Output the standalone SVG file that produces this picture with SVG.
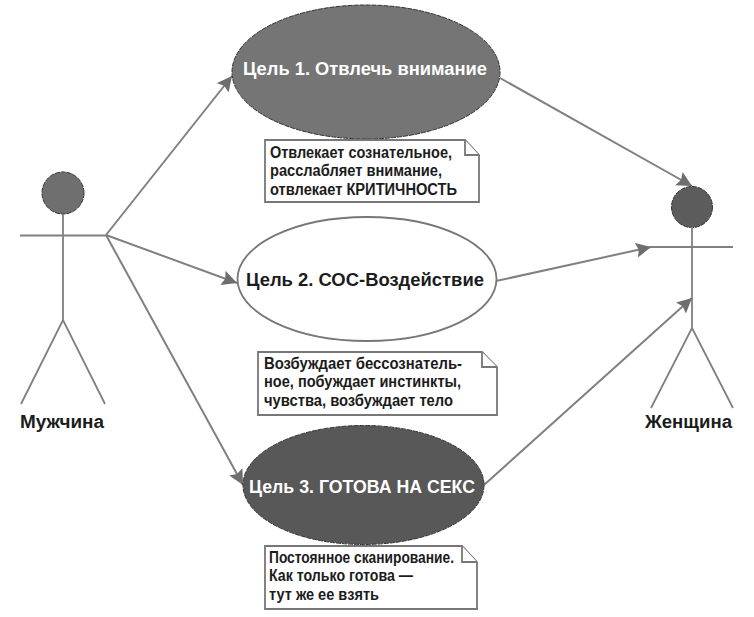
<svg xmlns="http://www.w3.org/2000/svg" width="754" height="617" viewBox="0 0 754 617">
<style>
text{font-family:"Liberation Sans",Arial,sans-serif;font-weight:bold;fill:#1c1c1c}
.g{font-size:17.5px}
.w{fill:#fff}
.a{font-size:18px}
.n{font-size:16px}
.l{fill:none;stroke:#808080;stroke-width:1.800}
.c{fill:none;stroke:#808080;stroke-width:2}
.h{stroke:#333;stroke-width:1;stroke-dasharray:5 1}
.note{fill:#fff;stroke:#777;stroke-width:1.800}
</style>
<defs>
<marker id="arr" markerUnits="userSpaceOnUse" markerWidth="16" markerHeight="16" refX="15" refY="7.500" orient="auto">
<path d="M0 0L15 7.500L0 15L2.500 7.500Z" fill="#6e6e6e"/>
</marker>
</defs>
<rect width="754" height="617" fill="#fff"/>
<g id="connectors">
<path class="c" marker-end="url(#arr)" d="M106 235L232 76"/>
<path class="c" marker-end="url(#arr)" d="M106 235L237 283"/>
<path class="c" marker-end="url(#arr)" d="M106 235L243 485"/>
<path class="c" marker-end="url(#arr)" d="M500 78L692 186"/>
<path class="c" marker-end="url(#arr)" d="M496 281L651 247"/>
<path class="c" marker-end="url(#arr)" d="M484 485L692 298"/>
</g>
<g id="actor-man">
<circle class="h" cx="63" cy="193" r="21" fill="#6f6f6f"/>
<path class="l" d="M20 235.500H106M63 214V320M21 404L63 320L105 404"/>
<text class="a" x="20" y="428" textLength="84" lengthAdjust="spacingAndGlyphs">Мужчина</text>
</g>
<g id="actor-woman">
<circle class="h" cx="692" cy="207" r="20.500" fill="#5c5c5c"/>
<path class="l" d="M650 247H733M692 227V328M651 408L692 328L733 408"/>
<text class="a" x="645" y="428" textLength="87" lengthAdjust="spacingAndGlyphs">Женщина</text>
</g>
<g id="goal-1">
<ellipse class="h" cx="366" cy="72" rx="134" ry="67" fill="#757575"/>
<text class="g w" x="243" y="75" textLength="244" lengthAdjust="spacingAndGlyphs">Цель 1. Отвлечь внимание</text>
</g>
<g id="goal-2">
<ellipse cx="367" cy="279" rx="129.500" ry="62" fill="#fff" stroke="#777" stroke-width="1.800"/>
<text class="g" x="246" y="286" textLength="238" lengthAdjust="spacingAndGlyphs">Цель 2. СОС-Воздействие</text>
</g>
<g id="goal-3">
<ellipse class="h" cx="363.500" cy="485" rx="120.500" ry="59.500" fill="#585858"/>
<text class="g w" x="249" y="493" textLength="226" lengthAdjust="spacingAndGlyphs">Цель 3. ГОТОВА НА СЕКС</text>
</g>
<g id="note-1">
<path class="note" d="M265 140H465L479 155V202H265Z"/>
<path class="note" d="M465 140V155H479"/>
<text class="n" x="270" y="157.500" textLength="182" lengthAdjust="spacingAndGlyphs">Отвлекает сознательное,</text>
<text class="n" x="270" y="176" textLength="172" lengthAdjust="spacingAndGlyphs">расслабляет внимание,</text>
<text class="n" x="270" y="194.500" textLength="187" lengthAdjust="spacingAndGlyphs">отвлекает КРИТИЧНОСТЬ</text>
</g>
<g id="note-2">
<path class="note" d="M258 352H482L497 367V415H258Z"/>
<path class="note" d="M482 352V367H497"/>
<text class="n" x="264" y="368.500" textLength="198" lengthAdjust="spacingAndGlyphs">Возбуждает бессознатель-</text>
<text class="n" x="264" y="387" textLength="197" lengthAdjust="spacingAndGlyphs">ное, побуждает инстинкты,</text>
<text class="n" x="264" y="405.500" textLength="189" lengthAdjust="spacingAndGlyphs">чувства, возбуждает тело</text>
</g>
<g id="note-3">
<path class="note" d="M265 546H462L477 562V609H265Z"/>
<path class="note" d="M462 546V562H477"/>
<text class="n" x="269" y="562.500" textLength="185" lengthAdjust="spacingAndGlyphs">Постоянное сканирование.</text>
<text class="n" x="269" y="581" textLength="144" lengthAdjust="spacingAndGlyphs">Как только готова —</text>
<text class="n" x="269" y="599.500" textLength="110" lengthAdjust="spacingAndGlyphs">тут же ее взять</text>
</g>
</svg>
